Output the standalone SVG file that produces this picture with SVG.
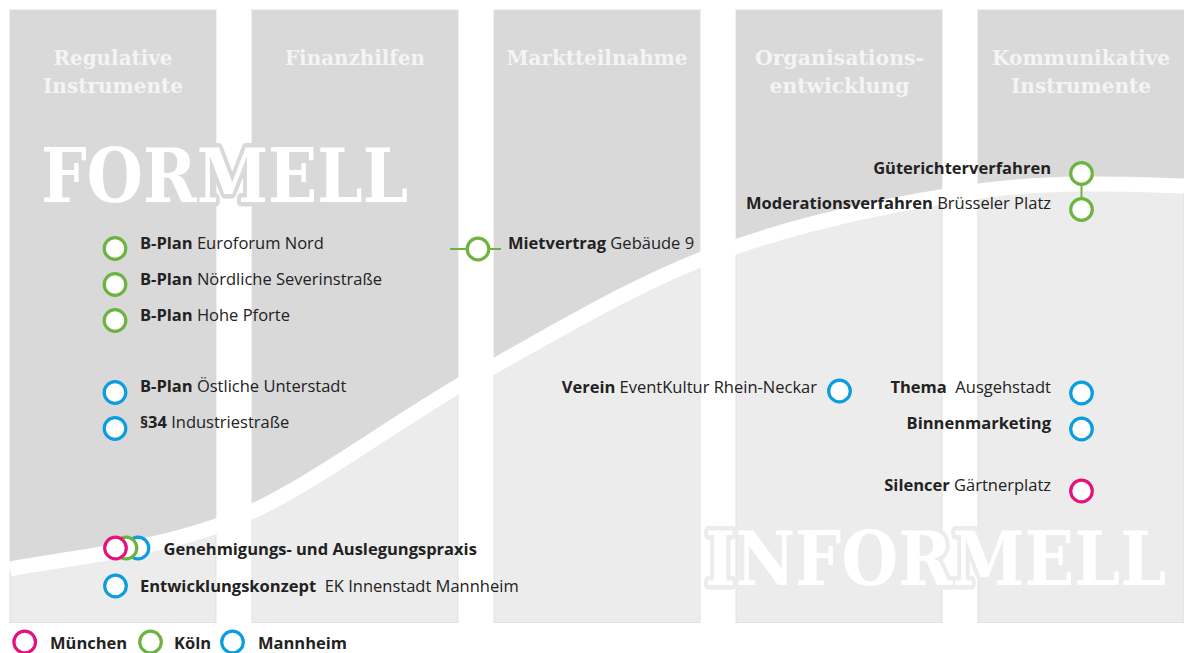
<svg xmlns="http://www.w3.org/2000/svg" width="1184" height="653" viewBox="0 0 1184 653">
<defs>
<style>
.col{fill:#ececec;stroke:#e1e1e1;stroke-width:1}
.hd{font-family:'DejaVu Serif','Liberation Serif',serif;font-weight:bold;font-size:21px;fill:#f4f4f4;text-anchor:middle}
.big{font-family:'DejaVu Serif','Liberation Serif',serif;font-weight:bold;font-size:75px;fill:#ffffff;paint-order:stroke;stroke-width:9;stroke-linejoin:round}
.t{font-family:'Open Sans','Noto Sans',sans-serif;font-size:16.5px;fill:#222222}
.e{text-anchor:end}
.b{font-weight:bold}
.ring{fill:#ffffff;stroke-width:3.2}
.g{stroke:#6db33f}
.p{stroke:#e5127d}
.m{stroke:#0a9ddf}
.ln{stroke:#6db33f;stroke-width:2;fill:none}
</style>
<clipPath id="cols">
<rect x="10" y="10" width="206" height="612.5"/>
<rect x="252" y="10" width="206" height="612.5"/>
<rect x="494" y="10" width="206" height="612.5"/>
<rect x="736" y="10" width="206" height="612.5"/>
<rect x="978" y="10" width="206" height="612.5"/>
</clipPath>
</defs>
<g id="background">
<rect class="col" x="10" y="10" width="206" height="612.5"/>
<rect class="col" x="252" y="10" width="206" height="612.5"/>
<rect class="col" x="494" y="10" width="206" height="612.5"/>
<rect class="col" x="736" y="10" width="206" height="612.5"/>
<rect class="col" x="978" y="10" width="206" height="612.5"/>
<path clip-path="url(#cols)" fill="#d9d9d9" d="M10 569 C47.5 560.7 157.3 551.2 235 519 C312.7 486.8 395.5 420.3 476 376 C556.5 331.7 634.2 283.8 718 253 C801.8 222.2 901.3 202.2 979 191 C1056.7 179.8 1149.8 185.2 1184 186 L1184 0 L0 0 L0 569 Z"/>
<path fill="none" stroke="#ffffff" stroke-width="15" d="M10 569 C47.5 560.7 157.3 551.2 235 519 C312.7 486.8 395.5 420.3 476 376 C556.5 331.7 634.2 283.8 718 253 C801.8 222.2 901.3 202.2 979 191 C1056.7 179.8 1149.8 185.2 1184 186"/>
</g>
<g id="headers">
<text class="hd" x="113" y="65" textLength="119" lengthAdjust="spacingAndGlyphs">Regulative</text>
<text class="hd" x="113" y="93" textLength="140" lengthAdjust="spacingAndGlyphs">Instrumente</text>
<text class="hd" x="355" y="65" textLength="140" lengthAdjust="spacingAndGlyphs">Finanzhilfen</text>
<text class="hd" x="597" y="65" textLength="181" lengthAdjust="spacingAndGlyphs">Marktteilnahme</text>
<text class="hd" x="839.5" y="65" textLength="169" lengthAdjust="spacingAndGlyphs">Organisations-</text>
<text class="hd" x="839.5" y="93" textLength="140" lengthAdjust="spacingAndGlyphs">entwicklung</text>
<text class="hd" x="1081" y="65" textLength="178" lengthAdjust="spacingAndGlyphs">Kommunikative</text>
<text class="hd" x="1081" y="93" textLength="140" lengthAdjust="spacingAndGlyphs">Instrumente</text>
<text class="big" x="41" y="202" stroke="#d9d9d9" textLength="367" lengthAdjust="spacingAndGlyphs">FORMELL</text>
<text class="big" x="705" y="585" stroke="#ececec" textLength="461" lengthAdjust="spacingAndGlyphs">INFORMELL</text>
</g>
<g id="connectors">
<line class="ln" x1="450" y1="249" x2="501" y2="249"/>
<line class="ln" x1="1081.5" y1="184" x2="1081.5" y2="199"/>
</g>
<g id="n-euroforum"><circle class="ring g" cx="115" cy="248.5" r="10.8"/><text class="t" x="140" y="249"><tspan class="b">B-Plan</tspan> Euroforum Nord</text></g>
<g id="n-severin"><circle class="ring g" cx="115" cy="284.5" r="10.8"/><text class="t" x="140" y="285"><tspan class="b">B-Plan</tspan> Nördliche Severinstraße</text></g>
<g id="n-hohepforte"><circle class="ring g" cx="115" cy="320.5" r="10.8"/><text class="t" x="140" y="321"><tspan class="b">B-Plan</tspan> Hohe Pforte</text></g>
<g id="n-unterstadt"><circle class="ring m" cx="115" cy="392.5" r="10.8"/><text class="t" x="140" y="392"><tspan class="b">B-Plan</tspan> Östliche Unterstadt</text></g>
<g id="n-industrie"><circle class="ring m" cx="115" cy="428.5" r="10.8"/><text class="t" x="140" y="428"><tspan class="b">§34</tspan> Industriestraße</text></g>
<g id="n-miete"><circle class="ring g" cx="478" cy="249" r="10.8"/><text class="t" x="508" y="249"><tspan class="b">Mietvertrag</tspan> Gebäude 9</text></g>
<g id="n-gueterichter"><circle class="ring g" cx="1081.5" cy="173.5" r="10.8"/><text class="t e b" x="1051" y="173.5">Güterichterverfahren</text></g>
<g id="n-moderation"><circle class="ring g" cx="1081.5" cy="209.5" r="10.8"/><text class="t e" x="1051" y="208.5"><tspan class="b">Moderationsverfahren</tspan> Brüsseler Platz</text></g>
<g id="n-verein"><circle class="ring m" cx="839.5" cy="391" r="10.8"/><text class="t e" x="817" y="393"><tspan class="b">Verein</tspan> EventKultur Rhein-Neckar</text></g>
<g id="n-thema"><circle class="ring m" cx="1081.5" cy="393" r="10.8"/><text class="t e" x="1051" y="393" xml:space="preserve"><tspan class="b">Thema</tspan>  Ausgehstadt</text></g>
<g id="n-binnen"><circle class="ring m" cx="1081.5" cy="429" r="10.8"/><text class="t e b" x="1051" y="428.5">Binnenmarketing</text></g>
<g id="n-silencer"><circle class="ring p" cx="1081.5" cy="491" r="10.8"/><text class="t e" x="1051" y="491"><tspan class="b">Silencer</tspan> Gärtnerplatz</text></g>
<g id="n-genehmigung"><circle class="ring m" cx="138" cy="548" r="10.8"/><circle class="ring g" cx="126" cy="548" r="10.8"/><circle class="ring p" cx="115.5" cy="548" r="10.8"/><text class="t b" x="163.5" y="555">Genehmigungs- und Auslegungspraxis</text></g>
<g id="n-entwicklung"><circle class="ring m" cx="115.5" cy="586" r="10.8"/><text class="t" x="140" y="591.5" xml:space="preserve"><tspan class="b">Entwicklungskonzept</tspan>  EK Innenstadt Mannheim</text></g>
<g id="legend">
<circle class="ring p" cx="24.7" cy="642" r="10.8"/><text class="t b" x="50" y="649">München</text>
<circle class="ring g" cx="150.5" cy="642" r="10.8"/><text class="t b" x="174" y="649">Köln</text>
<circle class="ring m" cx="232.5" cy="642" r="10.8"/><text class="t b" x="258" y="649">Mannheim</text>
</g>
</svg>
